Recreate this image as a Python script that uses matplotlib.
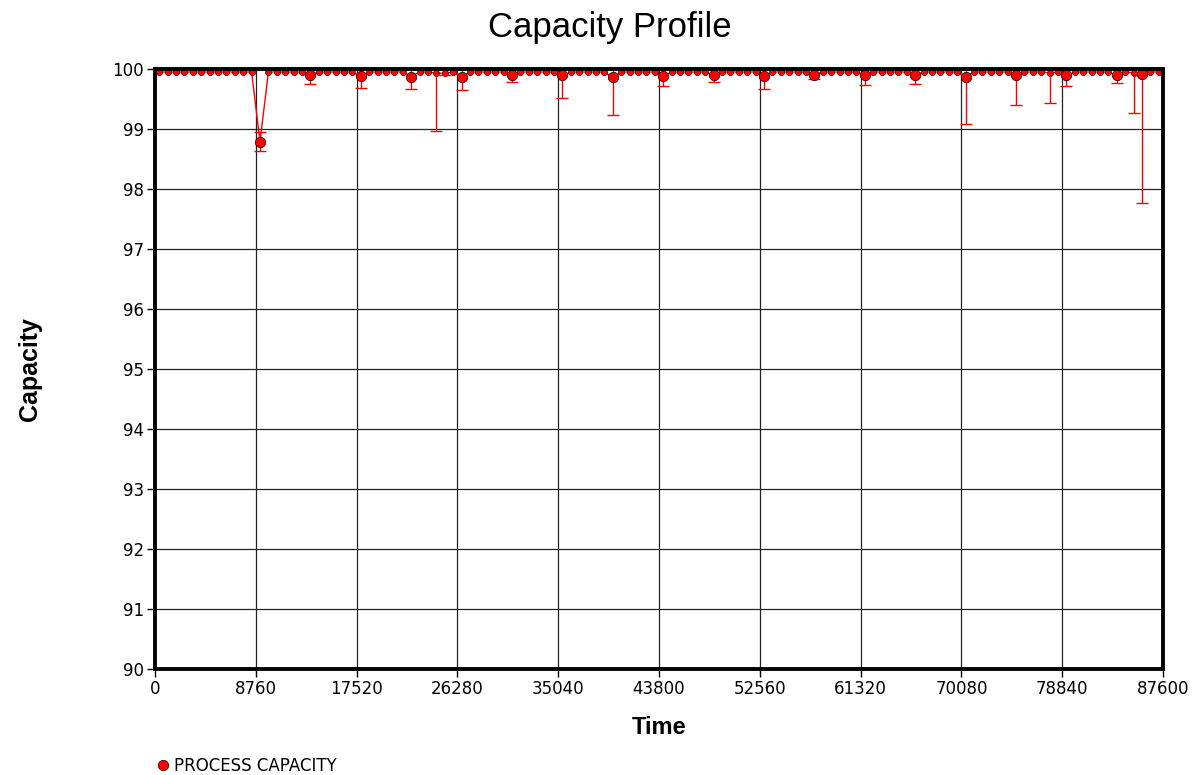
import numpy as np
import matplotlib
matplotlib.use('Agg')
from matplotlib import pyplot as plt
from matplotlib.lines import Line2D

# monthly capacity values (10 years, 12 per row)
capacity = [
    99.95, 99.95, 99.95, 99.95, 99.95, 99.95, 99.95, 99.95, 99.95, 99.95, 99.95, 99.95,
    98.79, 99.95, 99.95, 99.95, 99.95, 99.95, 99.90, 99.95, 99.95, 99.95, 99.95, 99.95,
    99.88, 99.95, 99.95, 99.95, 99.95, 99.95, 99.87, 99.95, 99.95, 99.93, 99.93, 99.95,
    99.87, 99.95, 99.95, 99.95, 99.95, 99.95, 99.90, 99.95, 99.95, 99.95, 99.95, 99.95,
    99.90, 99.95, 99.95, 99.95, 99.95, 99.95, 99.86, 99.95, 99.95, 99.95, 99.95, 99.95,
    99.88, 99.95, 99.95, 99.95, 99.95, 99.95, 99.90, 99.95, 99.95, 99.95, 99.95, 99.95,
    99.88, 99.95, 99.95, 99.95, 99.95, 99.95, 99.90, 99.95, 99.95, 99.95, 99.95, 99.95,
    99.90, 99.95, 99.95, 99.95, 99.95, 99.95, 99.90, 99.95, 99.95, 99.95, 99.95, 99.95,
    99.87, 99.95, 99.95, 99.95, 99.95, 99.95, 99.90, 99.95, 99.95, 99.95, 99.94, 99.95,
    99.90, 99.95, 99.95, 99.95, 99.95, 99.95, 99.90, 99.95, 99.94, 99.92, 99.95, 99.95,
]
month_hours = 730

# months that carry error bars, with lower / upper ends
bar_month = [12, 18, 24, 30, 33, 34, 36, 42, 48, 54, 60, 66, 72, 78, 84, 90, 96, 102, 106, 108, 114, 116, 117]
bar_low = [98.63, 99.75, 99.68, 99.67, 98.97, 99.90, 99.65, 99.79, 99.52, 99.24, 99.71, 99.78,
           99.67, 99.83, 99.73, 99.75, 99.09, 99.40, 99.44, 99.71, 99.76, 99.27, 97.76]
bar_high = [98.95, 100.0, 100.0, 100.0, 100.0, 100.0, 100.0, 100.0, 100.0, 100.0, 100.0, 100.0,
            100.0, 100.0, 100.0, 100.0, 100.0, 100.0, 100.0, 100.0, 100.0, 100.0, 100.0]
no_big_marker = [33, 34, 106, 116]

x_ticks = [0, 8760, 17520, 26280, 35040, 43800, 52560, 61320, 70080, 78840, 87600]
y_ticks = [90, 91, 92, 93, 94, 95, 96, 97, 98, 99, 100]

time = (np.arange(len(capacity)) + 0.5) * month_hours
capacity = np.array(capacity)

fig = plt.figure(figsize=(11.92, 7.75), dpi=100)
ax = fig.add_axes([155/1192, 1-669/775, 1008/1192, 600/775])

ax.plot(time, capacity, color='red', lw=1, marker='o', ms=4.5,
        mfc='red', mec='black', mew=0.4, zorder=3)

bt = np.array([time[m] for m in bar_month])
bv = np.array([capacity[m] for m in bar_month])
yerr = [bv - np.array(bar_low), np.array(bar_high) - bv]
ax.errorbar(bt, bv, yerr=yerr, fmt='none', ecolor='red', elinewidth=1,
            capsize=4.5, capthick=1, zorder=3)

big = [m for m in bar_month if m not in no_big_marker]
ax.plot([time[m] for m in big], [capacity[m] for m in big], ls='none', marker='o',
        ms=7.5, mfc='red', mec='black', mew=0.5, zorder=4)

ax.set_xlim(0, 87600)
ax.set_ylim(90, 100)
ax.set_xticks(x_ticks)
ax.set_yticks(y_ticks)
ax.tick_params(labelsize=12, length=6, width=1, pad=2, direction='out')
for lab in ax.get_xticklabels() + ax.get_yticklabels():
    lab.set_family('DejaVu Sans')
ax.grid(True, color='#222222', lw=0.9)
ax.set_axisbelow(True)
for s in ax.spines.values():
    s.set_linewidth(2.8)
    s.set_zorder(5)

ax.set_xlabel('Time', fontsize=17, fontweight='bold', family='Liberation Sans')
ax.xaxis.label.set_va('center')
ax.xaxis.set_label_coords(0.5, (669-727)/600)
ax.set_ylabel('Capacity', fontsize=18, fontweight='bold', family='Liberation Sans')
ax.yaxis.label.set_va('center')
ax.yaxis.set_label_coords((30-155)/1008, 0.5)

fig.text(610/1192, 1-28/775, 'Capacity Profile', fontsize=25, ha='center', va='center',
         family='Liberation Sans')

handle = Line2D([], [], ls='none', marker='o', ms=7.5, mfc='red', mec='black', mew=0.5)
fig.legend([handle], ['PROCESS CAPACITY'], loc='center left',
           bbox_to_anchor=(156/1192, 1-766/775), frameon=False, handletextpad=0.3,
           handlelength=0.8, borderpad=0, borderaxespad=0,
           prop={'family': 'DejaVu Sans', 'size': 12})

fig.savefig('out.png', dpi=100)
